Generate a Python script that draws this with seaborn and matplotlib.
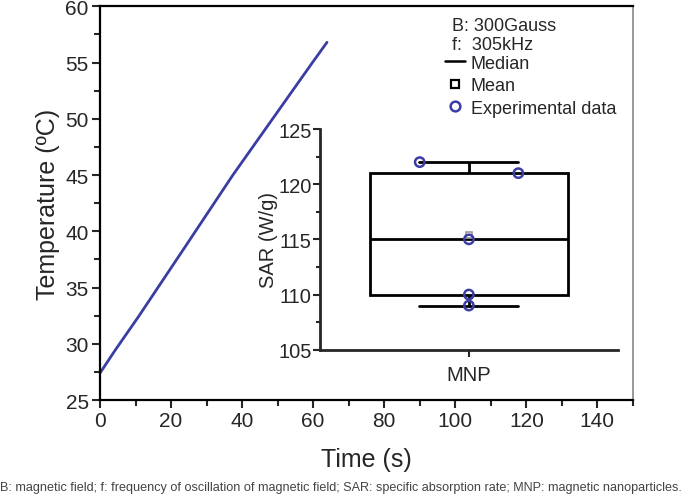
import numpy as np
import pandas as pd
import matplotlib.pyplot as plt
import seaborn as sns
from matplotlib.lines import Line2D
from matplotlib.ticker import MultipleLocator

# Heating curve
time_s = [0, 4.2, 10.8, 23.5, 37.4, 48.6, 59.8, 63.9]
temp_c = [27.4, 29.4, 32.4, 38.4, 45.0, 50.0, 55.0, 56.8]

# SAR measurements for the inset
sar_values = [122, 121, 115, 110, 109]
sar_group = ['MNP'] * 5

sns.set_style('ticks')
plt.rcParams['font.family'] = ['Liberation Sans', 'DejaVu Sans']

blue = '#3b3da3'
fig = plt.figure(figsize=(6.82, 5.02), dpi=100)
ax = fig.add_axes([0.1466, 0.201, 0.7814, 0.7845])

sns.lineplot(x=time_s, y=temp_c, ax=ax, color=blue, linewidth=2)
ax.set_xlim(0, 150)
ax.set_ylim(25, 60)
ax.xaxis.set_major_locator(MultipleLocator(20))
ax.xaxis.set_minor_locator(MultipleLocator(10))
ax.yaxis.set_major_locator(MultipleLocator(5))
ax.yaxis.set_minor_locator(MultipleLocator(2.5))
ax.set_xticks([0, 20, 40, 60, 80, 100, 120, 140])
ax.tick_params(which='major', direction='out', length=6, width=1.5, labelsize=15, pad=2)
ax.tick_params(which='minor', direction='out', length=4, width=1.5)
for s in ['left', 'bottom', 'top']:
    ax.spines[s].set_linewidth(1.6)
    ax.spines[s].set_color('black')
ax.spines['right'].set_linewidth(1.2)
ax.spines['right'].set_color('#888888')
ax.set_xlabel('Time (s)', fontsize=18, labelpad=12)
ax.set_ylabel('Temperature (ºC)', fontsize=18, labelpad=4)

# Inset: SAR box plot
ins = fig.add_axes([0.469, 0.3014, 0.437, 0.4396])
df = pd.DataFrame({'group': sar_group, 'SAR': sar_values})
sns.boxplot(data=df, x='group', y='SAR', ax=ins, width=0.665, color='white',
            linecolor='black', linewidth=2, whis=(0, 100), showfliers=False,
            showmeans=True,
            meanprops=dict(marker='s', markerfacecolor='white', markeredgecolor='#999999',
                           markersize=5, markeredgewidth=1.2))
offsets = [-0.165, 0.166, 0, 0, 0]
ins.scatter(np.array(offsets), sar_values, s=45, facecolors='none', edgecolors=blue,
            linewidths=1.8, zorder=5)
ins.set_xlim(-0.5, 0.5)
ins.set_ylim(105, 125)
ins.yaxis.set_major_locator(MultipleLocator(5))
ins.yaxis.set_minor_locator(MultipleLocator(2.5))
ins.set_facecolor('none')
sns.despine(ax=ins)
for s in ['left', 'bottom']:
    ins.spines[s].set_linewidth(2)
ins.tick_params(which='major', direction='out', length=5, width=1.5, labelsize=14.5, pad=1)
ins.tick_params(axis='x', which='major', pad=6)
ins.tick_params(which='minor', direction='out', length=3, width=1.5)
ins.set_xlabel('')
ins.set_ylabel('SAR (W/g)', fontsize=14.5, labelpad=0)

# Legend block
fig.text(0.663, 0.948, 'B: 300Gauss', fontsize=13, va='center')
fig.text(0.663, 0.909, 'f:  305kHz', fontsize=13, va='center')
handles = [Line2D([], [], color='black', linewidth=1.8),
           Line2D([], [], color='black', marker='s', linestyle='none', markersize=6,
                  markerfacecolor='white', markeredgewidth=1.6),
           Line2D([], [], color=blue, marker='o', linestyle='none', markersize=7,
                  markerfacecolor='white', markeredgewidth=1.8)]
ax.legend(handles, ['Median', 'Mean', 'Experimental data'], frameon=False, fontsize=13,
          loc='upper left', bbox_to_anchor=(0.653, 0.889), bbox_transform=fig.transFigure,
          handlelength=1.1, handletextpad=0.3, labelspacing=0.3, borderpad=0, borderaxespad=0)

fig.text(0.0, 0.022, 'B: magnetic field; f: frequency of oscillation of magnetic field; '
         'SAR: specific absorption rate; MNP: magnetic nanoparticles.',
         fontsize=9.1, color='#444444')

fig.savefig('out.png', dpi=100)
